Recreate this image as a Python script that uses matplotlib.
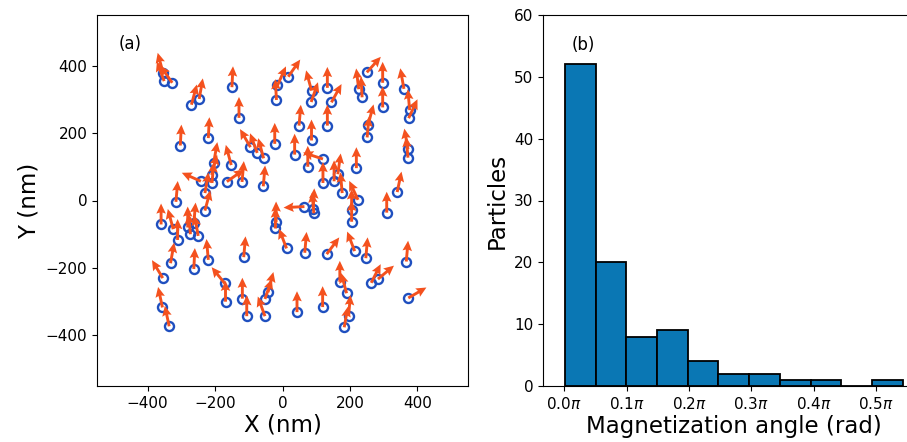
import numpy as np
import matplotlib
matplotlib.use("Agg")
import matplotlib.pyplot as plt
from matplotlib.ticker import FuncFormatter

# particle positions (nm) and tilt of magnetization from +y (deg, + = to the right)
px = [-354, -351, -327, -270, -247, -150, -129, -220, -303, -152,
      -204, -210, -209, -242, -230, -316, -165, -120, -57, -95,
      -75, -56, -23, -18, -15, 17, 86, 85, 133, 145,
      250, 226, 236, 297, 297, 360, 377, 374, 49, 86,
      133, 254, 251, 36, 75, 120, 120, 153, 164, 177,
      219, 340, 372, 372, 224, 65, 93, 205, 205, 309,
      12, 66, 131, 214, 247, 367, 170, 190, 263, 283,
      373, 43, 119, 196, 183, -230, -360, -324, -311, -281,
      -263, -273, -250, -332, -263, -220, -355, -171, -169, -356,
      -336, -115, -119, -106, -52, -43, -52, -19, -21, 91]
py = [378, 354, 349, 284, 301, 336, 245, 185, 163, 105,
      112, 76, 52, 57, 22, -4, 56, 55, 42, 158,
      141, 125, 168, 298, 341, 367, 326, 292, 334, 291,
      380, 330, 306, 349, 276, 331, 268, 244, 222, 178,
      222, 225, 187, 136, 100, 123, 52, 57, 78, 22,
      96, 25, 152, 127, 2, -18, -38, -29, -63, -36,
      -142, -155, -159, -150, -171, -181, -241, -275, -244, -233,
      -289, -331, -316, -342, -376, -30, -71, -85, -117, -80,
      -68, -100, -105, -186, -203, -176, -230, -246, -300, -317,
      -373, -168, -291, -343, -292, -272, -343, -65, -83, -26]
tilt = [-15, -20, -35, 15, 10, 3, 0, 3, 3, -15,
        10, 15, 5, -66, 10, 5, 55, 5, 5, -30,
        -20, -15, 0, -3, 24, 35, -15, 19, 0, 29,
        42, -7, -3, 0, 0, -10, -5, 25, 5, 0,
        0, 15, 5, 0, 0, -72, 0, 0, 8, -5,
        0, 12, -10, -5, -25, -93, -5, 0, 0, 0,
        -21, 5, 37, -21, 5, 5, 0, -15, 27, 50,
        60, 0, 0, 5, 10, 15, 0, -15, 0, 0,
        5, -5, -10, 10, 3, -5, -31, -39, 0, -12,
        -12, 5, 0, 0, 19, 15, -20, 0, 0, 3]

# histogram of magnetization angle (units of pi)
bin_lo = 0.001
bin_hi = 0.543
counts = [52, 20, 8, 9, 4, 2, 2, 1, 1, 0, 1]

arrow_len = 62
fig = plt.figure(figsize=(9.07, 4.42), dpi=100)
W, H = 907, 442

ax1 = fig.add_axes([97 / W, 56 / H, 371 / W, 371 / H])
t = np.radians(tilt)
ax1.plot(px, py, 'o', mfc='none', mec='#1f4fbf', mew=1.7, ms=6.5, zorder=2)
ax1.quiver(px, py, arrow_len * np.sin(t), arrow_len * np.cos(t),
           angles='xy', scale_units='xy', scale=1, color='#f4511e',
           width=0.0078, headwidth=3.3, headlength=3.5, headaxislength=3.1, zorder=3)
ax1.set_xlim(-550, 550)
ax1.set_ylim(-550, 550)
ax1.set_xticks([-400, -200, 0, 200, 400])
ax1.set_yticks([-400, -200, 0, 200, 400])
ax1.set_xlabel('X (nm)', fontsize=16.5, labelpad=2)
ax1.set_ylabel('Y (nm)', fontsize=16.5)
ax1.text(-485, 465, '(a)', fontsize=12, va='center')
ax1.tick_params(labelsize=11)

ax2 = fig.add_axes([543 / W, 56 / H, 381 / W, 371 / H])
edges = np.linspace(bin_lo, bin_hi, len(counts) + 1)
ax2.bar(edges[:-1], counts, width=np.diff(edges), align='edge',
        color='#0a77b4', edgecolor='black', linewidth=1.3)
ax2.set_xlim(-0.034, 0.577)
ax2.set_ylim(0, 60)
ax2.set_xticks([0.0, 0.1, 0.2, 0.3, 0.4, 0.5])
ax2.xaxis.set_major_formatter(FuncFormatter(lambda v, p: '%.1f$\\pi$' % v))
ax2.set_yticks([0, 10, 20, 30, 40, 50, 60])
ax2.set_xlabel('Magnetization angle (rad)', fontsize=16.5, labelpad=2)
ax2.set_ylabel('Particles', fontsize=16.5)
ax2.text(0.012, 55.2, '(b)', fontsize=12, va='center')
ax2.tick_params(labelsize=11)

fig.savefig('out.png', dpi=100)
